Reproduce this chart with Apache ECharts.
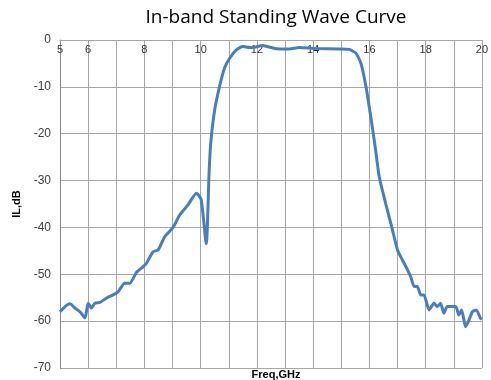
<!DOCTYPE html>
<html>
<head>
<meta charset="utf-8">
<script src="https://cdn.jsdelivr.net/npm/echarts@6/dist/echarts.min.js"></script>
<style>
  html, body { margin: 0; padding: 0; background: #fff; }
  #chart { width: 491px; height: 380px; }
</style>
</head>
<body>
<div id="chart"></div>
<script>
// frequency, GHz
const freq = [5.0, 5.18, 5.35, 5.53, 5.71, 5.89, 6.0, 6.12, 6.24, 6.42, 6.65, 6.89, 7.07, 7.3, 7.48, 7.72, 7.95, 8.07, 8.31, 8.49, 8.72, 9.02, 9.26, 9.55, 9.85, 10.02, 10.2, 10.3, 10.36, 10.5, 10.67, 10.85, 11.03, 11.27, 11.5, 11.74, 11.86, 12.2, 12.68, 13.16, 13.5, 14.1, 14.93, 15.28, 15.52, 15.7, 15.88, 16.05, 16.2, 16.35, 16.58, 16.82, 17.0, 17.17, 17.3, 17.47, 17.59, 17.7, 17.83, 17.94, 18.12, 18.3, 18.41, 18.53, 18.65, 18.77, 19.07, 19.18, 19.28, 19.42, 19.54, 19.66, 19.8, 19.95, 20.0];
// insertion loss, dB
const il = [-58.0, -56.9, -56.3, -57.2, -58.0, -59.3, -56.2, -57.2, -56.2, -56.0, -55.1, -54.4, -53.7, -51.9, -51.9, -49.6, -48.4, -47.7, -45.2, -44.8, -42.0, -40.0, -37.3, -35.2, -32.7, -34.1, -43.5, -28.4, -22.0, -14.9, -10.0, -6.0, -3.9, -2.1, -1.4, -1.6, -1.6, -1.2, -1.85, -1.9, -1.6, -1.8, -1.9, -2.0, -2.8, -5.0, -10.0, -16.4, -22.5, -29.2, -34.9, -40.5, -44.8, -46.9, -48.4, -50.5, -52.6, -52.6, -54.4, -54.4, -57.6, -56.2, -56.9, -56.2, -58.3, -56.9, -56.9, -58.7, -57.6, -61.2, -59.8, -58.0, -57.6, -59.4, -59.6];
const xTickLabels = [5, 6, 8, 10, 12, 14, 16, 18, 20];

const chart = echarts.init(document.getElementById('chart'));
const gridColor = '#a6a6a6';
chart.setOption({
  animation: false,
  title: [
    {
      text: 'In-band Standing Wave Curve',
      left: 271, top: 3, textAlign: 'center',
      textStyle: { fontFamily: 'Open Sans', fontSize: 19, fontWeight: 'normal', color: '#000' }
    },
    {
      text: 'Freq,GHz',
      left: 271, top: 364, textAlign: 'center',
      textStyle: { fontFamily: 'Liberation Sans', fontSize: 11, fontWeight: 'bold', color: '#000' }
    }
  ],
  grid: { left: 60, right: 9, top: 40, bottom: 12 },
  xAxis: {
    type: 'value',
    position: 'top',
    min: 5, max: 20, interval: 1,
    axisLine: { show: true, lineStyle: { color: gridColor } },
    axisTick: { show: false },
    axisLabel: {
      inside: true,
      margin: 4,
      fontFamily: 'Liberation Sans',
      fontSize: 11,
      color: '#333',
      formatter: v => xTickLabels.includes(v) ? String(v) : ''
    },
    splitLine: { show: true, lineStyle: { color: gridColor, width: 1 } }
  },
  yAxis: {
    type: 'value',
    min: -70, max: 0, interval: 10,
    name: 'IL,dB',
    nameLocation: 'middle',
    nameGap: 36,
    nameRotate: 90,
    nameTextStyle: { fontFamily: 'Liberation Sans', fontSize: 11, fontWeight: 'bold', color: '#000' },
    axisLine: { show: true, lineStyle: { color: '#888' } },
    axisTick: { show: false },
    axisLabel: { fontFamily: 'Liberation Sans', fontSize: 12, color: '#404040', margin: 9 },
    splitLine: { show: true, lineStyle: { color: gridColor, width: 1 } }
  },
  series: [{
    type: 'line',
    data: freq.map((f, i) => [f, il[i]]),
    showSymbol: false,
    smooth: 0.2,
    lineStyle: { color: '#4a7ebb', width: 3 },
    clip: true
  }]
});
</script>
</body>
</html>
